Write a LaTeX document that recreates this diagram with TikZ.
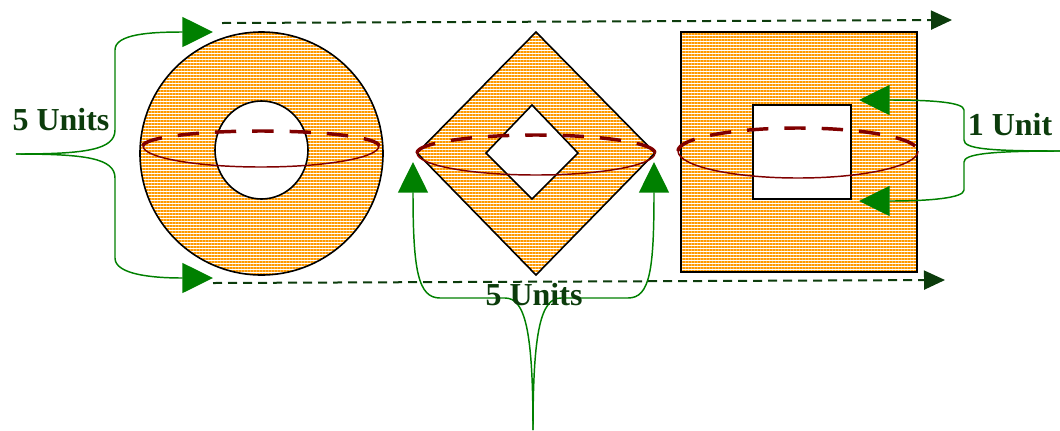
\documentclass[tikz,border=0pt]{standalone}
\usepackage{fontspec}
\setmainfont{Liberation Serif}
\usetikzlibrary{arrows.meta,patterns.meta}
\definecolor{hatchorange}{RGB}{255,153,0}
\definecolor{ringred}{RGB}{128,0,0}
\definecolor{bracegreen}{RGB}{0,128,0}
\definecolor{labelgreen}{RGB}{12,60,12}
\tikzset{
  hatch/.style={pattern={Lines[angle=0,distance=2.25pt,line width=0.8pt]},pattern color=hatchorange},
  outline/.style={draw=black,line width=1.2pt},
  ringfront/.style={draw=ringred,line width=1.1pt},
  ringback/.style={draw=ringred,line width=2.6pt,dash pattern=on 16pt off 12pt},
  brace/.style={draw=bracegreen,line width=1.1pt,-{Triangle[length=23pt,width=22.5pt]}},
  span/.style={draw=labelgreen,line width=1.5pt,dash pattern=on 6.75pt off 4.5pt,-{Triangle[length=15.75pt,width=14.25pt]}},
  unitlabel/.style={text=labelgreen,font=\fontsize{24}{26}\selectfont\bfseries,inner sep=0pt,anchor=base}
}
\begin{document}
\begin{tikzpicture}[x=0.75pt,y=-0.75pt]
\useasboundingbox (0,0) rectangle (1060,430);
% ring
\path[hatch,even odd rule] (261.5,153.5) circle[radius=121.5] (261.5,150) ellipse[x radius=46.5,y radius=49];
\draw[outline] (261.5,153.5) circle[radius=121.5];
\draw[outline] (261.5,150) ellipse[x radius=46.5,y radius=49];
% diamond
\path[hatch,even odd rule] (536,32) -- (655,153) -- (536,275) -- (417,153) -- cycle
  (532,105) -- (578,153) -- (532,199) -- (486,153) -- cycle;
\draw[outline] (536,32) -- (655,153) -- (536,275) -- (417,153) -- cycle;
\draw[outline] (532,105) -- (578,153) -- (532,199) -- (486,153) -- cycle;
% square
\path[hatch,even odd rule] (681,32) rectangle (917,272) (753,105) rectangle (851,199);
\draw[outline] (681,32) rectangle (917,272);
\draw[outline] (753,105) rectangle (851,199);
% rings round the middle
\draw[ringback] (143,146) arc[start angle=180,end angle=360,x radius=118,y radius=15];
\draw[ringfront] (143,146) arc[start angle=180,end angle=0,x radius=118,y radius=21];
\draw[ringback] (417,153) arc[start angle=180,end angle=360,x radius=119,y radius=18];
\draw[ringfront] (417,153) arc[start angle=180,end angle=0,x radius=119,y radius=22];
\draw[ringback] (678,151) arc[start angle=180,end angle=360,x radius=120,y radius=23];
\draw[ringfront] (678,151) arc[start angle=180,end angle=0,x radius=120,y radius=27];
% spans
\coordinate (topstart) at (222,23);
\coordinate (topend) at (952,20);
\coordinate (botstart) at (213,283);
\coordinate (botend) at (945,280);
\draw[span] (topstart) -- (topend);
\draw[span] (botstart) -- (botend);
% braces
\coordinate (leftroot) at (16,154);
\coordinate (lefttop) at (213,32);
\coordinate (leftbot) at (213,278);
\draw[brace] (leftroot) .. controls (85,154) and (115,150) .. (115,130) -- (115,50)
  .. controls (115,34) and (150,32) .. (lefttop);
\draw[brace] (leftroot) .. controls (85,154) and (115,158) .. (115,178) -- (115,258)
  .. controls (115,274) and (150,278) .. (leftbot);
\coordinate (rightroot) at (1060,151);
\coordinate (righttop) at (859,100);
\coordinate (rightbot) at (859,201);
\draw[brace] (rightroot) .. controls (990,151) and (964,149) .. (964,140) -- (964,110)
  .. controls (964,102) and (930,100) .. (righttop);
\draw[brace] (rightroot) .. controls (990,151) and (964,154) .. (964,162) -- (964,190)
  .. controls (964,198) and (930,201) .. (rightbot);
\coordinate (midroot) at (533,430);
\coordinate (midleft) at (413,162);
\coordinate (midright) at (654,162);
\draw[brace] (midroot) .. controls (533,330) and (525,298) .. (505,298) -- (440,298)
  .. controls (418,298) and (413,270) .. (midleft);
\draw[brace] (midroot) .. controls (533,330) and (541,298) .. (561,298) -- (628,298)
  .. controls (650,298) and (654,270) .. (midright);
% labels
\node[unitlabel] (leftlabel) at (61,130) {5 Units};
\node[unitlabel] (rightlabel) at (1010,135) {1 Unit};
\node[unitlabel] (midlabel) at (534,305) {5 Units};
\end{tikzpicture}
\end{document}
